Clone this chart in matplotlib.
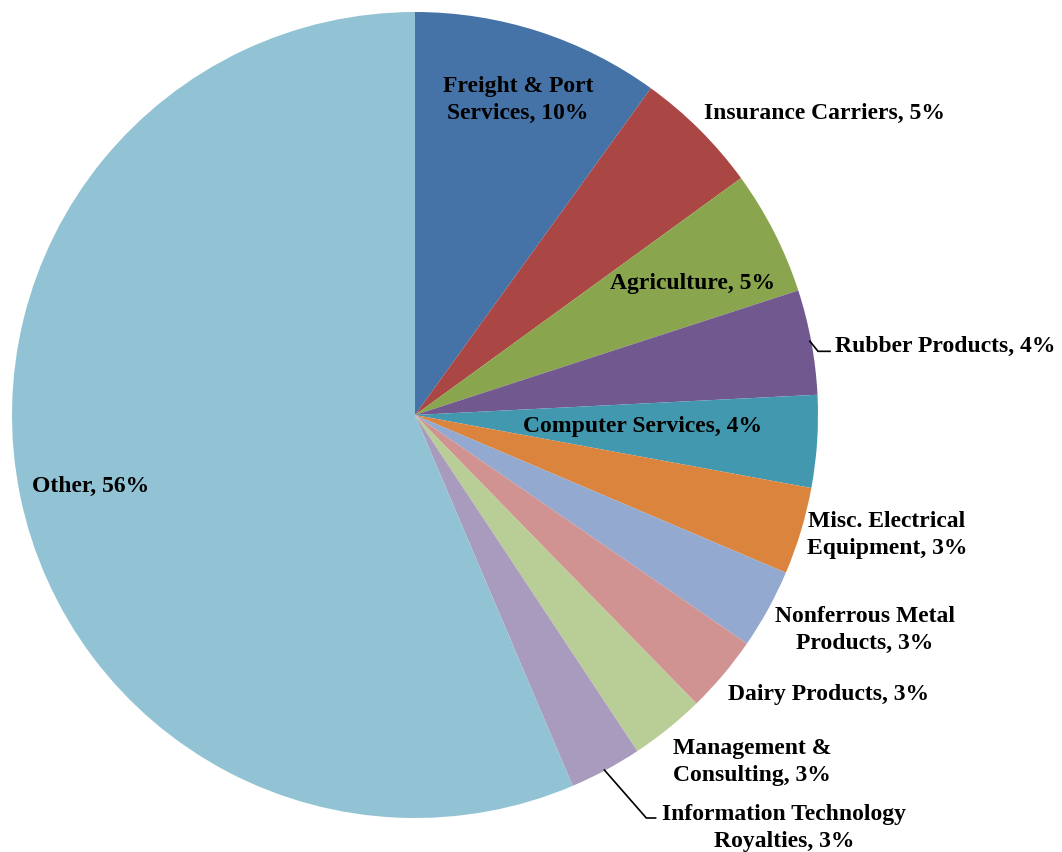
import matplotlib.pyplot as plt

# sectors, clockwise from 12 o'clock
labels = ["Freight & Port\nServices, 10%", "Insurance Carriers, 5%", "Agriculture, 5%",
          "Rubber Products, 4%", "Computer Services, 4%", "Misc. Electrical\nEquipment, 3%",
          "Nonferrous Metal\nProducts, 3%", "Dairy Products, 3%", "Management &\nConsulting, 3%",
          "Information Technology\nRoyalties, 3%", "Other, 56%"]
shares = [9.95, 5.05, 5.0, 4.2, 3.7, 3.5, 3.2, 3.1, 3.0, 2.9, 56.4]
colors = ["#4572A7", "#AA4643", "#89A54E", "#71588F", "#4198AF", "#DB843D",
          "#93A9CF", "#D19392", "#B9CD96", "#A99BBD", "#92C3D4"]

# label centres in pie units (radius 1)
label_x = [0.255, 1.015, 0.688, 1.042, 0.564, 1.171, 1.116, 1.025, 0.837, 0.916, -0.804]
label_y = [0.785, 0.750, 0.329, 0.172, -0.025, -0.295, -0.530, -0.691, -0.859, -1.022, -0.176]

plt.rcParams['font.family'] = ['Liberation Serif', 'DejaVu Serif']

fig = plt.figure(figsize=(10.62, 8.53), dpi=100)
ax = fig.add_axes([12 / 1062, 34 / 853, 806 / 1062, 806 / 853])
ax.pie(shares, colors=colors, startangle=90, counterclock=False, radius=1,
       wedgeprops=dict(linewidth=0))
ax.set_xlim(-1, 1)
ax.set_ylim(-1, 1)
ax.set_aspect('equal')
ax.axis('off')

for i, lab in enumerate(labels):
    ha = 'left' if i == 3 else 'center'
    ax.text(label_x[i], label_y[i], lab, ha=ha, va='center', fontsize=17,
            fontweight='bold', linespacing=1.38, multialignment='center', clip_on=False)

# leader lines
ax.plot([0.980, 1.0, 1.030], [0.183, 0.158, 0.158], color='black', lw=1.2, clip_on=False)
ax.plot([0.470, 0.574, 0.597], [-0.881, -1.0, -1.0], color='black', lw=1.2, clip_on=False)

fig.savefig("out.png", dpi=100)
